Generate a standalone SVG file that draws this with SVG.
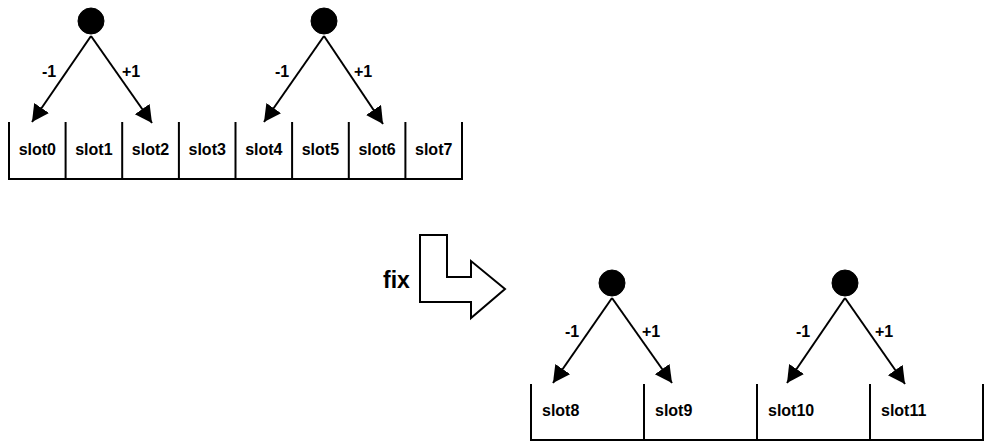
<svg xmlns="http://www.w3.org/2000/svg" width="994" height="447" viewBox="0 0 994 447">
<style>
text{font-family:"Liberation Sans",Arial,sans-serif;font-weight:bold;fill:#000}
.lbl{font-size:16px;text-anchor:middle}
.slot{font-size:16px}
.c{fill:#000;stroke:#000;stroke-width:1}
.edge{stroke:#000;stroke-width:2;fill:none;marker-end:url(#ah)}
.box{stroke:#000;stroke-width:2;fill:none}
</style>
<defs>
<marker id="ah" markerUnits="userSpaceOnUse" markerWidth="20" markerHeight="20" refX="17" refY="9" orient="auto" viewBox="0 0 20 20">
<path d="M0,0 L17,9 L0,18 z" fill="#000"/>
</marker>
</defs>
<rect width="994" height="447" fill="#fff"/>
<g id="top-array">
<path class="box" d="M9,122 V179 H462 V122 M65.6,122 V179 M122.2,122 V179 M178.9,122 V179 M235.5,122 V179 M292.1,122 V179 M348.8,122 V179 M405.4,122 V179"/>
<text class="slot" text-anchor="middle" x="37.3" y="155">slot0</text>
<text class="slot" text-anchor="middle" x="93.9" y="155">slot1</text>
<text class="slot" text-anchor="middle" x="150.5" y="155">slot2</text>
<text class="slot" text-anchor="middle" x="207.2" y="155">slot3</text>
<text class="slot" text-anchor="middle" x="263.8" y="155">slot4</text>
<text class="slot" text-anchor="middle" x="320.4" y="155">slot5</text>
<text class="slot" text-anchor="middle" x="377.1" y="155">slot6</text>
<text class="slot" text-anchor="middle" x="433.7" y="155">slot7</text>
</g>
<g id="node1"><circle class="c" cx="91" cy="21" r="13"/></g>
<g id="node2"><circle class="c" cx="324" cy="21" r="13"/></g>
<g id="node3"><circle class="c" cx="612" cy="283" r="13"/></g>
<g id="node4"><circle class="c" cx="845" cy="283" r="13"/></g>
<g id="fix-arrow">
<polygon points="420,235 447,235 447,277 471,277 471,261 505,289 471,318 471,302 420,302" fill="#fff" stroke="#000" stroke-width="2"/>
<text x="383" y="288" style="font-size:23px">fix</text>
</g>
<g id="bottom-array">
<path class="box" d="M531,384 V440 H983 V384 M644,384 V440 M757,384 V440 M870,384 V440"/>
<text class="slot" x="542" y="416">slot8</text>
<text class="slot" x="655" y="416">slot9</text>
<text class="slot" x="768" y="416">slot10</text>
<text class="slot" x="881" y="416">slot11</text>
</g>
<g id="connectors">
<line class="edge" x1="91" y1="36" x2="32" y2="122"/>
<line class="edge" x1="91" y1="36" x2="152" y2="123"/>
<line class="edge" x1="324" y1="36" x2="264" y2="122"/>
<line class="edge" x1="324" y1="36" x2="383" y2="124"/>
<line class="edge" x1="612" y1="298" x2="553" y2="383"/>
<line class="edge" x1="612" y1="298" x2="672" y2="383"/>
<line class="edge" x1="845" y1="298" x2="787" y2="383"/>
<line class="edge" x1="845" y1="298" x2="905" y2="384"/>
<text class="lbl" x="49" y="77">-1</text>
<text class="lbl" x="131" y="77">+1</text>
<text class="lbl" x="282" y="77">-1</text>
<text class="lbl" x="363" y="77">+1</text>
<text class="lbl" x="572" y="337">-1</text>
<text class="lbl" x="651" y="337">+1</text>
<text class="lbl" x="803" y="337">-1</text>
<text class="lbl" x="884" y="337">+1</text>
</g>
</svg>
